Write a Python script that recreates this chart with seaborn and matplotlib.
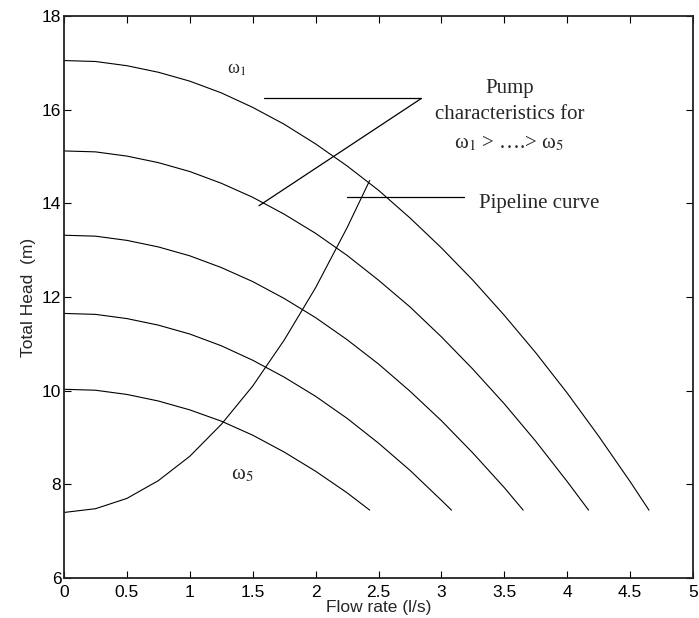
"""
Pump characteristics at five speeds with the pipeline system curve.
"""

import pandas as pd
import matplotlib
matplotlib.use("Agg")
import matplotlib.pyplot as plt
import seaborn as sns


# =============================================================================
# DATA
# =============================================================================
speed_labels = ["w1", "w2", "w3", "w4", "w5"]

flow_w1 = [0, 0.25, 0.5, 0.75, 1, 1.25, 1.5, 1.75, 2, 2.25, 2.5, 2.75, 3, 3.25, 3.5, 3.75, 4, 4.25, 4.5, 4.65]
head_w1 = [17.05, 17.03, 16.94, 16.80, 16.61, 16.36, 16.05, 15.69, 15.27, 14.80, 14.28, 13.69, 13.05, 12.36, 11.61, 10.81, 9.95, 9.03, 8.06, 7.45]

flow_w2 = [0, 0.25, 0.5, 0.75, 1, 1.25, 1.5, 1.75, 2, 2.25, 2.5, 2.75, 3, 3.25, 3.5, 3.75, 4, 4.17]
head_w2 = [15.12, 15.10, 15.01, 14.87, 14.68, 14.43, 14.13, 13.77, 13.36, 12.89, 12.36, 11.79, 11.15, 10.46, 9.72, 8.92, 8.06, 7.45]

flow_w3 = [0, 0.25, 0.5, 0.75, 1, 1.25, 1.5, 1.75, 2, 2.25, 2.5, 2.75, 3, 3.25, 3.5, 3.65]
head_w3 = [13.32, 13.30, 13.21, 13.07, 12.88, 12.63, 12.33, 11.97, 11.56, 11.09, 10.57, 9.99, 9.36, 8.67, 7.93, 7.45]

flow_w4 = [0, 0.25, 0.5, 0.75, 1, 1.25, 1.5, 1.75, 2, 2.25, 2.5, 2.75, 3, 3.08]
head_w4 = [11.65, 11.63, 11.54, 11.40, 11.21, 10.96, 10.65, 10.29, 9.88, 9.41, 8.88, 8.30, 7.66, 7.45]

flow_w5 = [0, 0.25, 0.5, 0.75, 1, 1.25, 1.5, 1.75, 2, 2.25, 2.43]
head_w5 = [10.03, 10.01, 9.92, 9.78, 9.59, 9.35, 9.05, 8.69, 8.28, 7.82, 7.45]

flow_pipe = [0, 0.25, 0.5, 0.75, 1, 1.25, 1.5, 1.75, 2, 2.25, 2.43]
head_pipe = [7.40, 7.48, 7.70, 8.08, 8.60, 9.28, 10.10, 11.08, 12.20, 13.48, 14.49]

x_ticks = [0, 0.5, 1, 1.5, 2, 2.5, 3, 3.5, 4, 4.5, 5]
x_tick_labels = ["0", "0.5", "1", "1.5", "2", "2.5", "3", "3.5", "4", "4.5", "5"]
y_ticks = [6, 8, 10, 12, 14, 16, 18]


# =============================================================================
# PLOT
# =============================================================================
def main():
    sns.set_style("ticks")
    plt.rcParams["font.family"] = ["Liberation Sans", "DejaVu Sans"]
    plt.rcParams["mathtext.fontset"] = "stix"

    pump = pd.concat([
        pd.DataFrame({"flow": f, "head": h, "speed": s})
        for f, h, s in zip(
            [flow_w1, flow_w2, flow_w3, flow_w4, flow_w5],
            [head_w1, head_w2, head_w3, head_w4, head_w5],
            speed_labels,
        )
    ])
    pipe = pd.DataFrame({"flow": flow_pipe, "head": head_pipe})

    fig = plt.figure(figsize=(6.99, 6.18), dpi=100)
    ax = fig.add_axes([0.0916, 0.0647, 0.8998, 0.9093])

    sns.lineplot(data=pump, x="flow", y="head", units="speed", estimator=None,
                 color="black", lw=0.8, sort=False, ax=ax)
    sns.lineplot(data=pipe, x="flow", y="head", color="black", lw=0.8,
                 sort=False, ax=ax)

    ax.set_xlim(0, 5)
    ax.set_ylim(6, 18)
    ax.set_xticks(x_ticks)
    ax.set_xticklabels(x_tick_labels)
    ax.set_yticks(y_ticks)
    ax.tick_params(direction="in", length=5, width=0.8, labelsize=12.5,
                   colors="black")
    ax.tick_params(axis="x", pad=5)
    ax.tick_params(axis="y", pad=2)
    for side in ["top", "right", "left", "bottom"]:
        ax.spines[side].set_visible(True)
        ax.spines[side].set_linewidth(1.3)
        ax.spines[side].set_color("#222222")
    ax.tick_params(top=True, right=True)

    ax.set_xlabel("Flow rate (l/s)", fontsize=12.5, labelpad=0)
    ax.set_ylabel("Total Head  (m)", fontsize=12.5, labelpad=4)

    # Annotations
    serif = ["Liberation Serif", "DejaVu Serif"]
    ax.plot([1.59, 2.84], [16.24, 16.24], color="black", lw=0.9)
    ax.plot([2.84, 1.55], [16.24, 13.95], color="black", lw=0.9)
    ax.plot([2.25, 3.18], [14.14, 14.14], color="black", lw=0.9)

    ax.text(3.54, 16.45, "Pump", ha="center", va="center", fontsize=15, family=serif)
    ax.text(3.54, 15.9, "characteristics for", ha="center", va="center", fontsize=15, family=serif)
    ax.text(3.54, 15.28, "ω$_1$ > ….> ω$_5$", ha="center", va="center",
            fontsize=15, family=serif)
    ax.text(3.30, 14.0, "Pipeline curve", ha="left", va="center", fontsize=15, family=serif)
    ax.text(1.37, 16.85, "ω$_1$", ha="center", va="center", fontsize=13, family=serif)
    ax.text(1.42, 8.2, "ω$_5$", ha="center", va="center", fontsize=15, family=serif)

    fig.savefig("out.png", dpi=100)
    plt.close(fig)


if __name__ == "__main__":
    main()
